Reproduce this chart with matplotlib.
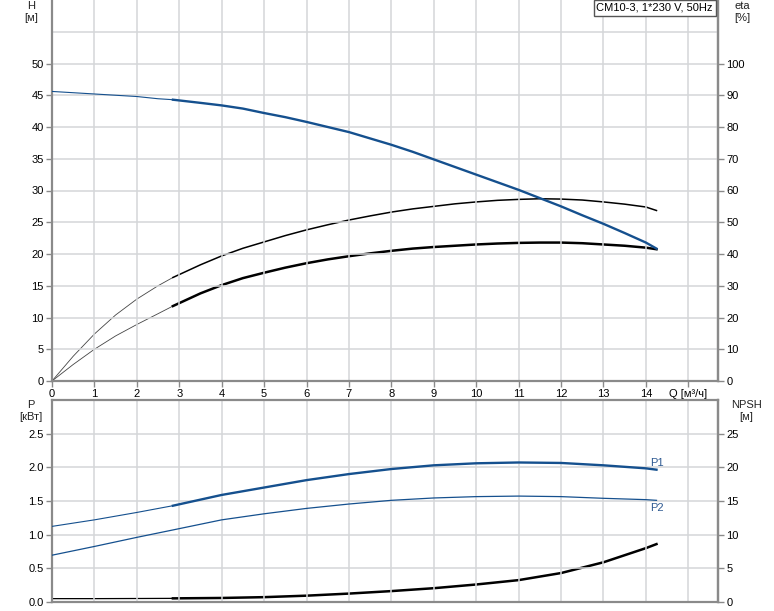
import matplotlib
matplotlib.use("Agg")
import matplotlib.pyplot as plt

plt.rcParams['font.family'] = ['Liberation Sans', 'DejaVu Sans']

# ---- data ----
# upper chart (Q in m3/h)
q_top = [0, 0.5, 1, 1.5, 2, 2.5, 2.85, 3.5, 4, 4.5, 5, 5.5, 6, 6.5, 7, 7.5, 8, 8.5, 9, 9.5,
         10, 10.5, 11, 11.5, 12, 12.5, 13, 13.5, 14, 14.25]
head = [45.6, 45.4, 45.2, 45.0, 44.8, 44.45, 44.3, 43.8, 43.4, 42.9, 42.2, 41.55, 40.8, 40.0,
        39.2, 38.2, 37.2, 36.1, 34.9, 33.7, 32.5, 31.3, 30.1, 28.8, 27.5, 26.1, 24.75, 23.3,
        21.8, 20.85]
eta_pump = [0, 7.8, 14.8, 20.8, 25.8, 30.0, 32.6, 36.6, 39.4, 41.8, 43.8, 45.8, 47.6, 49.2,
            50.7, 52.0, 53.2, 54.2, 55.0, 55.8, 56.4, 56.9, 57.2, 57.4, 57.3, 57.0, 56.4, 55.7,
            54.8, 53.7]
eta_total = [0, 5.2, 10.0, 14.2, 17.8, 21.2, 23.6, 27.6, 30.2, 32.4, 34.1, 35.7, 37.1, 38.3,
             39.3, 40.2, 41.0, 41.7, 42.2, 42.6, 43.0, 43.3, 43.5, 43.6, 43.6, 43.4, 43.0, 42.6,
             42.0, 41.5]

# lower chart
q_bot = [0, 1, 2, 2.85, 4, 5, 6, 7, 8, 9, 10, 11, 12, 13, 14, 14.25]
p1 = [1.123, 1.22, 1.33, 1.43, 1.59, 1.70, 1.81, 1.90, 1.975, 2.03, 2.06, 2.072, 2.065, 2.03, 1.985, 1.965]
p2 = [0.695, 0.825, 0.96, 1.07, 1.22, 1.31, 1.39, 1.455, 1.51, 1.545, 1.565, 1.573, 1.565, 1.54, 1.52, 1.51]
npsh = [0.5, 0.5, 0.52, 0.54, 0.6, 0.72, 0.94, 1.25, 1.62, 2.05, 2.6, 3.25, 4.3, 5.9, 8.0, 8.6]

x_ticks = [0, 1, 2, 3, 4, 5, 6, 7, 8, 9, 10, 11, 12, 13, 14, 15]
x_labels = ['0', '1', '2', '3', '4', '5', '6', '7', '8', '9', '10', '11', '12', '13', '14', 'Q [м³/ч]']
h_ticks = [0, 5, 10, 15, 20, 25, 30, 35, 40, 45, 50]
eta_ticks = [0, 10, 20, 30, 40, 50, 60, 70, 80, 90, 100]
p_ticks = [0.0, 0.5, 1.0, 1.5, 2.0, 2.5]
p_labels = ['0.0', '0.5', '1.0', '1.5', '2.0', '2.5']
npsh_ticks = [0, 5, 10, 15, 20, 25]
title = 'CM10-3, 1*230 V, 50Hz'

BLUE = '#15508e'
GRID = '#d4d6d8'
SPINE = '#8a8a8a'
FS = 8

W, Hpx = 774, 611
fig = plt.figure(figsize=(W / 100, Hpx / 100), dpi=100)


def fx(px):
    return px / W


def fy(py):
    return 1 - py / Hpx


ax1 = fig.add_axes([fx(52), fy(381), fx(718) - fx(52), fy(0) - fy(381)])
ax2 = fig.add_axes([fx(52), fy(602), fx(718) - fx(52), fy(400) - fy(602)])

s_top = 7   # points up to Q=2.85 drawn thin
s_bot = 4


def style(ax, top_visible):
    for s in ['left', 'bottom', 'right']:
        ax.spines[s].set_color(SPINE)
        ax.spines[s].set_linewidth(1.6)
    ax.spines['top'].set_visible(top_visible)
    ax.spines['top'].set_color(SPINE)
    ax.spines['top'].set_linewidth(1.6)
    ax.set_xlim(0, 15.7)
    ax.set_xticks(x_ticks)
    ax.grid(True, which='both', color=GRID, linewidth=1.1)
    ax.set_axisbelow(True)
    ax.tick_params(axis='both', colors=SPINE, labelcolor='black', labelsize=FS,
                   length=4, width=1, pad=2)
    ax.tick_params(axis='y', which='minor', length=0)


def style_right(axr):
    for s in ['left', 'bottom', 'top']:
        axr.spines[s].set_visible(False)
    axr.spines['right'].set_color(SPINE)
    axr.spines['right'].set_linewidth(1.6)
    axr.tick_params(axis='y', colors=SPINE, labelcolor='black', labelsize=FS,
                    length=4, width=1, pad=2)


# ---- top chart ----
style(ax1, False)
ax1.set_ylim(0, 60)
ax1.set_yticks(h_ticks)
ax1.set_yticks([55], minor=True)
ax1.set_xticklabels(x_labels)

ax1r = ax1.twinx()
ax1r.set_ylim(0, 120)
ax1r.set_yticks(eta_ticks)
style_right(ax1r)

ax1r.plot(q_top[:s_top], eta_pump[:s_top], color='#444444', lw=0.6)
ax1r.plot(q_top[s_top - 1:], eta_pump[s_top - 1:], color='black', lw=1.1)
ax1r.plot(q_top[:s_top], eta_total[:s_top], color='#444444', lw=0.6)
ax1r.plot(q_top[s_top - 1:], eta_total[s_top - 1:], color='black', lw=1.8)

ax1.plot(q_top[:s_top], head[:s_top], color=BLUE, lw=0.8, zorder=5)
ax1.plot(q_top[s_top - 1:], head[s_top - 1:], color=BLUE, lw=1.7, zorder=5)
ax1.set_zorder(ax1r.get_zorder() + 1)
ax1.patch.set_visible(False)

# ---- bottom chart ----
style(ax2, True)
ax2.set_ylim(0, 3.0)
ax2.set_yticks(p_ticks)
ax2.set_yticklabels(p_labels)
ax2.set_xticklabels([])
ax2.tick_params(axis='x', length=0)

ax2r = ax2.twinx()
ax2r.set_ylim(0, 30)
ax2r.set_yticks(npsh_ticks)
style_right(ax2r)

ax2r.plot(q_bot[:s_bot], npsh[:s_bot], color='black', lw=0.9)
ax2r.plot(q_bot[s_bot - 1:], npsh[s_bot - 1:], color='black', lw=1.8)

ax2.plot(q_bot[:s_bot], p1[:s_bot], color=BLUE, lw=0.8, zorder=5)
ax2.plot(q_bot[s_bot - 1:], p1[s_bot - 1:], color=BLUE, lw=1.7, zorder=5)
ax2.plot(q_bot, p2, color=BLUE, lw=0.9, zorder=5)
ax2.set_zorder(ax2r.get_zorder() + 1)
ax2.patch.set_visible(False)

ax2.text(q_bot[-1], p1[-1] + 0.03, 'P1', color='#2f5a92', fontsize=FS, ha='center', va='bottom')
ax2.text(q_bot[-1], p2[-1] - 0.04, 'P2', color='#2f5a92', fontsize=FS, ha='center', va='top')

# ---- axis titles ----
lab = '#222222'
fig.text(fx(31), fy(6), 'H', ha='center', va='center', fontsize=FS, color=lab)
fig.text(fx(31), fy(18), '[м]', ha='center', va='center', fontsize=FS, color=lab)
fig.text(fx(742), fy(6), 'eta', ha='center', va='center', fontsize=FS, color=lab)
fig.text(fx(742), fy(18), '[%]', ha='center', va='center', fontsize=FS, color=lab)
fig.text(fx(31), fy(405), 'P', ha='center', va='center', fontsize=FS, color=lab)
fig.text(fx(31), fy(417), '[кВт]', ha='center', va='center', fontsize=FS, color=lab)
fig.text(fx(746), fy(405), 'NPSH', ha='center', va='center', fontsize=FS, color=lab)
fig.text(fx(746), fy(417), '[м]', ha='center', va='center', fontsize=FS, color=lab)

fig.text(fx(713), fy(8), title, ha='right', va='center', fontsize=FS, color='black',
         bbox=dict(boxstyle='square,pad=0.25', facecolor='white', edgecolor='#555555', linewidth=1))

fig.savefig('out.png', dpi=100)
